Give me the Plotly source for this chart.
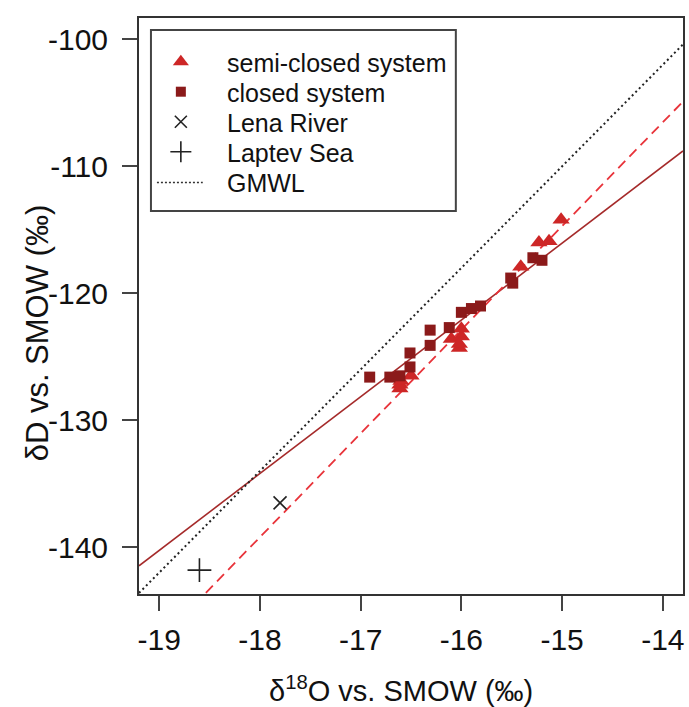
import plotly.graph_objects as go

# Ice samples: semi-closed system (triangles)
semi_d18o = [-16.61, -16.61, -16.60, -16.50, -16.10, -16.02, -16.00, -16.00, -16.02,
             -15.41, -15.23, -15.13, -15.01]
semi_dd = [-127.5, -127.2, -126.9, -126.5, -123.6, -124.3, -123.4, -122.8, -124.0,
           -117.9, -116.0, -115.9, -114.2]

# Ice samples: closed system (squares)
closed_d18o = [-16.91, -16.71, -16.61, -16.51, -16.51, -16.31, -16.31, -16.12,
               -16.00, -15.90, -15.81, -15.51, -15.49, -15.29, -15.20]
closed_dd = [-126.6, -126.6, -126.5, -125.8, -124.7, -124.1, -122.9, -122.7,
             -121.5, -121.2, -121.0, -118.8, -119.2, -117.2, -117.4]

# Reference waters
lena_d18o, lena_dd = [-17.80], [-136.5]
laptev_d18o, laptev_dd = [-18.60], [-141.8]

# Regression lines (slope, intercept) and the global meteoric water line
closed_fit = (6.05, -25.3)
semi_fit = (8.17, 7.85)
gmwl = (8.0, 10.0)

x_range = [-19.2, -13.8]
y_range = [-143.68, -98.32]

x_ticks = [-19, -18, -17, -16, -15, -14]
x_tick_text = ["-19", "-18", "-17", "-16", "-15", "-14"]
y_ticks = [-140, -130, -120, -110, -100]
y_tick_text = ["-140", "-130", "-120", "-110", "-100"]

legend_labels = ["semi-closed system", "closed system", "Lena River", "Laptev Sea", "GMWL"]

RED = "#CD2626"
DARK_RED = "#8B1A1A"
INK = "#111"
FONT = "Liberation Sans, Arial, sans-serif"

W, H = 689, 707
M_L, M_R, M_T, M_B = 139, 4, 18, 113
PW, PH = W - M_L - M_R, H - M_T - M_B


def px_x(p):
    """Horizontal pixel -> paper fraction of the plotting area."""
    return (p - M_L) / PW


def px_y(p):
    """Vertical pixel (from top) -> paper fraction of the plotting area."""
    return 1 - (p - M_T) / PH


def line_y(fit, xs):
    return [fit[0] * x + fit[1] for x in xs]


fig = go.Figure()

fig.add_trace(go.Scatter(x=x_range, y=line_y(closed_fit, x_range), mode="lines",
                         line=dict(color="#A52A2A", width=1.6), hoverinfo="skip"))
fig.add_trace(go.Scatter(x=x_range, y=line_y(semi_fit, x_range), mode="lines",
                         line=dict(color="#E8333A", width=1.8, dash="10px,6px"),
                         hoverinfo="skip"))
fig.add_trace(go.Scatter(x=x_range, y=line_y(gmwl, x_range), mode="lines",
                         line=dict(color="#222", width=2, dash="2px,3px"), hoverinfo="skip"))

tri_marker = dict(symbol="triangle-up", size=15, color=RED, line=dict(width=0))
sq_marker = dict(symbol="square", size=11, color=DARK_RED, line=dict(width=0))
x_marker = dict(symbol="x-thin", size=13, color="#222", line=dict(width=1.6, color="#222"))
plus_marker = dict(symbol="cross-thin", size=17, color="#222", line=dict(width=1.6, color="#222"))

fig.add_trace(go.Scatter(x=semi_d18o, y=semi_dd, mode="markers", marker=tri_marker))
fig.add_trace(go.Scatter(x=closed_d18o, y=closed_dd, mode="markers", marker=sq_marker))
fig.add_trace(go.Scatter(x=lena_d18o, y=lena_dd, mode="markers", marker=x_marker))
fig.add_trace(go.Scatter(x=laptev_d18o, y=laptev_dd, mode="markers", marker=plus_marker))

# Legend box, drawn in the plotting-area frame
LEG_L, LEG_R, LEG_T, LEG_B = 151, 457, 30, 211
SYM_X, TXT_X = 181, 225
ROWS = [61.7, 91.7, 121.7, 151.7, 182.5]

fig.add_shape(type="rect", xref="paper", yref="paper",
              x0=px_x(LEG_L), x1=px_x(LEG_R), y0=px_y(LEG_B), y1=px_y(LEG_T),
              line=dict(color="#444", width=2), fillcolor="white", layer="below")

legend_markers = [dict(tri_marker, size=14), dict(sq_marker, size=10),
                  dict(x_marker, size=12), dict(plus_marker, size=15)]
for mk, row in zip(legend_markers, ROWS[:4]):
    fig.add_trace(go.Scatter(x=[px_x(SYM_X)], y=[px_y(row)], xaxis="x2", yaxis="y2",
                             mode="markers", marker=mk, hoverinfo="skip",
                             cliponaxis=False))
fig.add_trace(go.Scatter(x=[px_x(157), px_x(203)], y=[px_y(ROWS[4])] * 2,
                         xaxis="x2", yaxis="y2", mode="lines", hoverinfo="skip",
                         line=dict(color="#333", width=1.6, dash="2px,2px")))

for label, row in zip(legend_labels, ROWS):
    fig.add_annotation(text=label, xref="paper", yref="paper", x=px_x(TXT_X), y=px_y(row + 1),
                       xanchor="left", yanchor="middle", showarrow=False,
                       font=dict(family=FONT, size=25, color=INK))

axis_common = dict(showline=True, mirror=True, linecolor="#333", linewidth=2,
                   ticks="outside", ticklen=15, tickwidth=2, tickcolor="#444",
                   showgrid=False, zeroline=False,
                   tickfont=dict(family=FONT, size=30, color=INK))

fig.update_xaxes(range=x_range, tickvals=x_ticks, ticktext=x_tick_text,
                 ticklabelstandoff=3, **axis_common)
fig.update_yaxes(range=y_range, tickvals=y_ticks, ticktext=y_tick_text,
                 ticklabelstandoff=8, **axis_common)

# Axis titles
fig.add_annotation(text="δ<sup>18</sup>O vs. SMOW (‰)", xref="paper", yref="paper",
                   x=px_x(402), y=px_y(689), xanchor="center", yanchor="middle",
                   showarrow=False, font=dict(family=FONT, size=29, color=INK))
fig.add_annotation(text="δD vs. SMOW (‰)", xref="paper", yref="paper",
                   x=px_x(37), y=px_y(333), xanchor="center", yanchor="middle",
                   textangle=-90, showarrow=False,
                   font=dict(family=FONT, size=31, color=INK))

fig.update_layout(
    width=W, height=H,
    margin=dict(l=M_L, r=M_R, t=M_T, b=M_B),
    paper_bgcolor="white", plot_bgcolor="white",
    font=dict(family=FONT, color=INK),
    showlegend=False,
    xaxis2=dict(overlaying="x", range=[0, 1], visible=False),
    yaxis2=dict(overlaying="y", range=[0, 1], visible=False),
)

fig.write_html("out.html")
